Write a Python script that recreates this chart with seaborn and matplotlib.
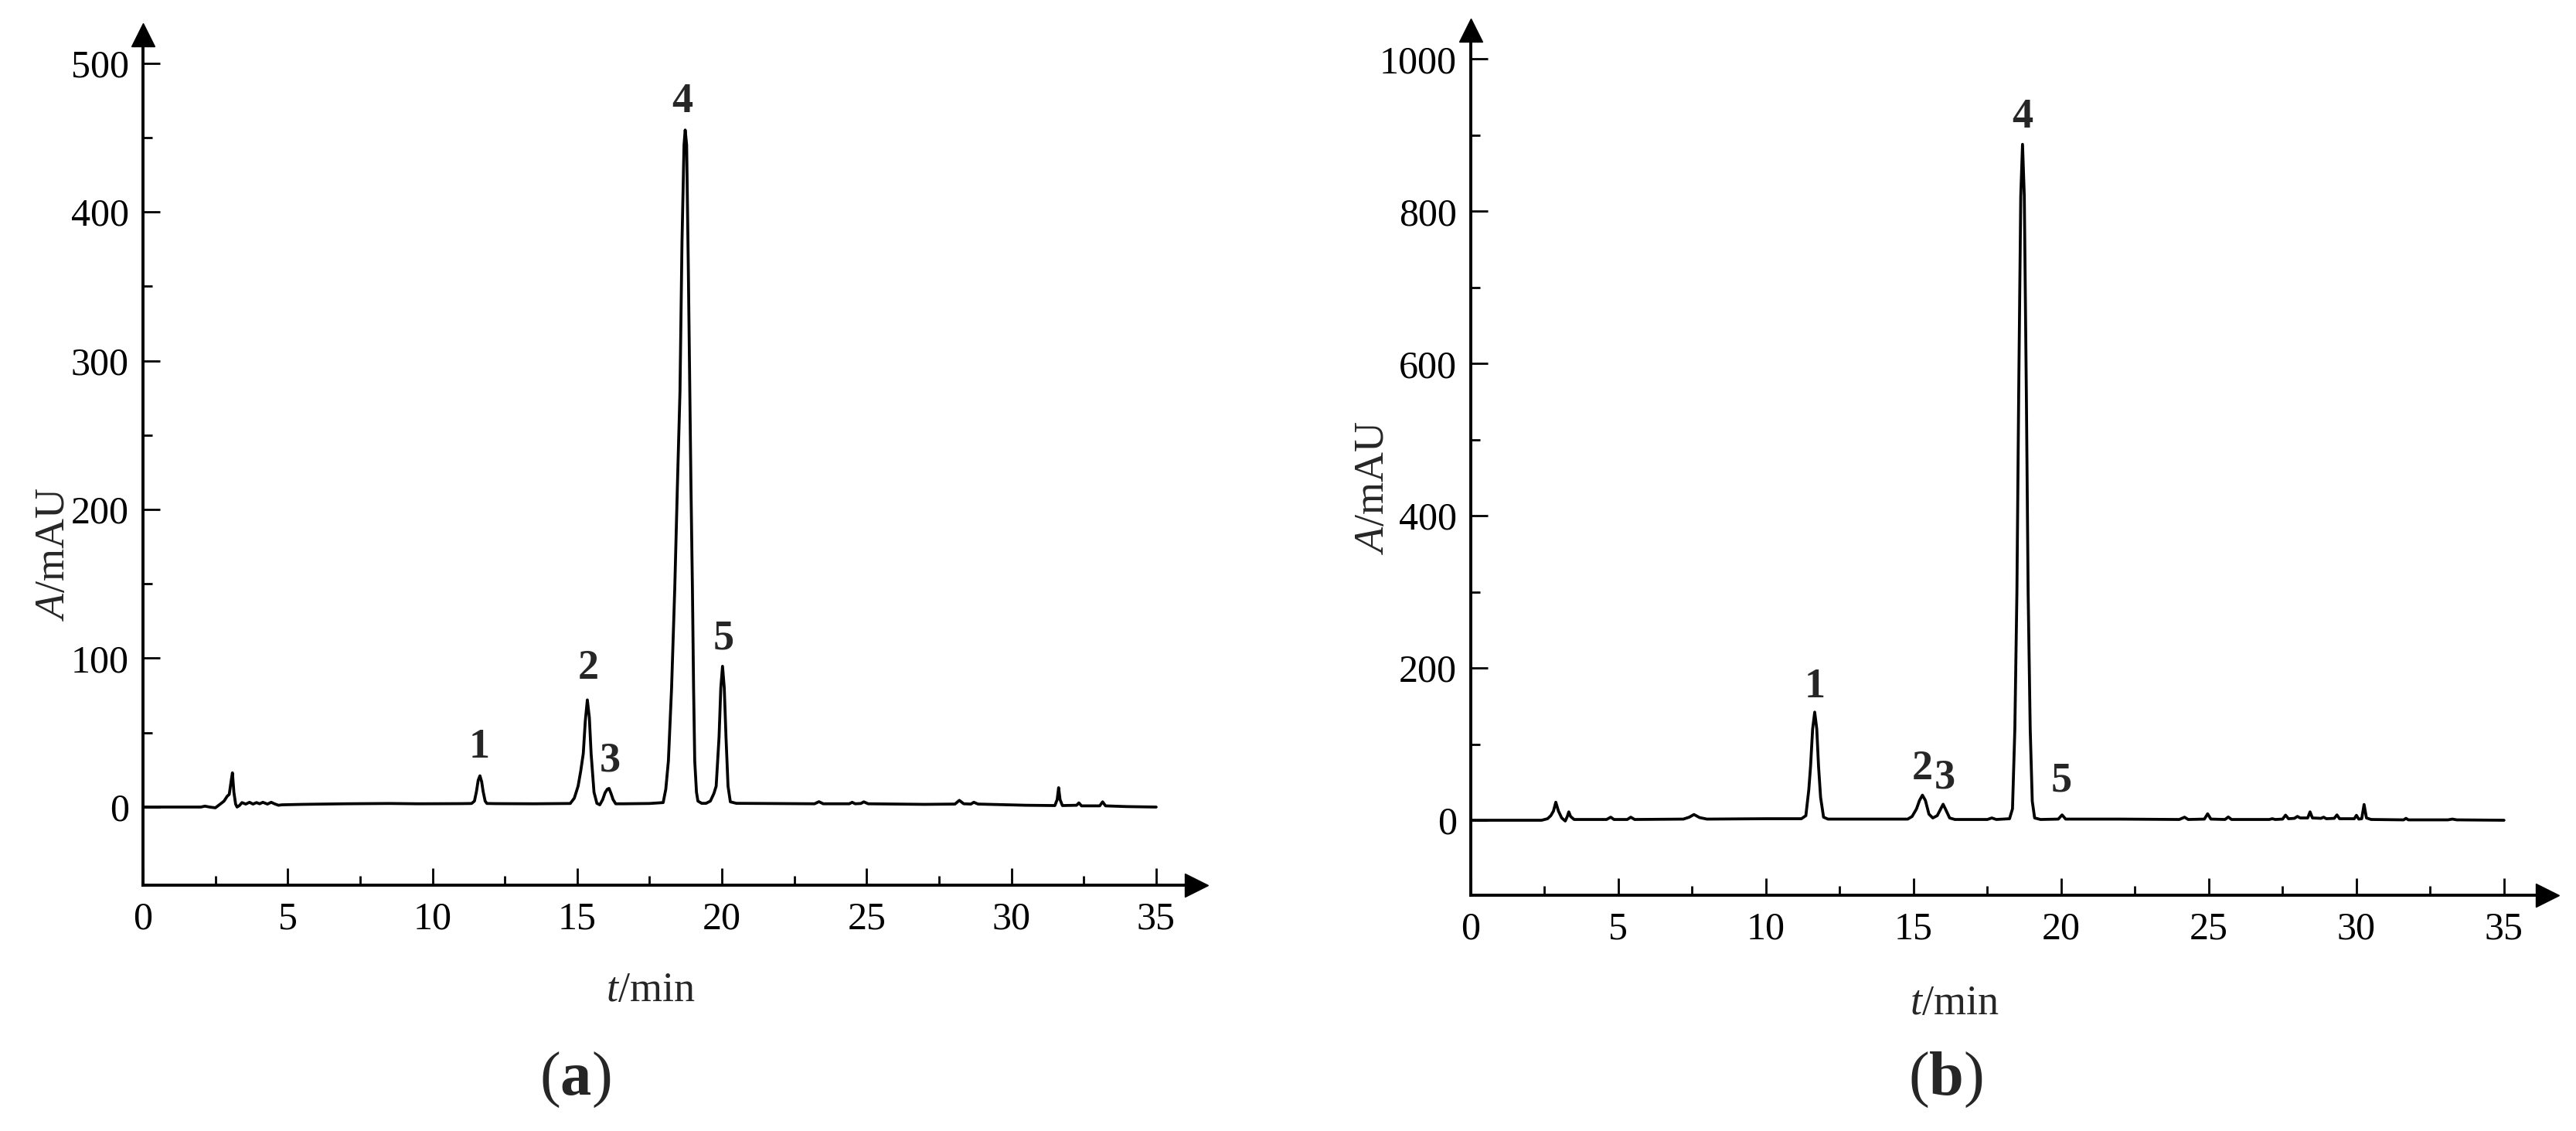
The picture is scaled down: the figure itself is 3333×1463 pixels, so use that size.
import matplotlib
matplotlib.use("Agg")
import matplotlib.pyplot as plt
import seaborn as sns
import pandas as pd
from matplotlib.ticker import FixedLocator

# ---------------- data ----------------
t_a = [0, 2.0, 2.14, 2.3, 2.5, 2.67, 2.8, 2.91, 2.98, 3.05, 3.09, 3.14, 3.2, 3.25, 3.33, 3.42,
       3.55, 3.68, 3.8, 3.92, 4.03, 4.14, 4.3, 4.43, 4.54, 4.68, 4.8, 5.5, 7.0, 8.5, 9.5, 11.0,
       11.35, 11.45, 11.52, 11.58, 11.64, 11.7, 11.75, 11.82, 11.88, 12.2, 13.5, 14.76, 14.9,
       15.03, 15.12, 15.21, 15.28, 15.35, 15.42, 15.48, 15.58, 15.68, 15.78, 15.88, 15.96, 16.04,
       16.1, 16.17, 16.24, 16.33, 16.6, 17.5, 17.97, 18.06, 18.15, 18.26, 18.37, 18.46, 18.55,
       18.62, 18.69, 18.73, 18.78, 18.84, 18.89, 18.93, 18.98, 19.02, 19.06, 19.12, 19.17, 19.3,
       19.45, 19.6, 19.72, 19.8, 19.9, 19.96, 20.02, 20.08, 20.14, 20.21, 20.29, 20.5, 21.5,
       23.2, 23.35, 23.5, 24.4, 24.5, 24.6, 24.8, 24.9, 25.05, 27.0, 28.05, 28.2, 28.35, 28.6,
       28.7, 28.85, 30.5, 31.5, 31.58, 31.63, 31.68, 31.76, 32.25, 32.33, 32.42, 33.05, 33.15,
       33.25, 34.0, 35.0]
A_a = [0, 0, 0.6, 0, -0.5, 2, 4, 7.3, 8.5, 18, 23, 10, 2, 0, 1, 3,
       2, 3.2, 2, 3, 2.2, 3.2, 2, 3.2, 2.2, 1.2, 1.5, 1.8, 2.2, 2.4, 2.2, 2.3,
       2.4, 4, 10.5, 18, 21, 17, 10.5, 4, 2.4, 2.3, 2.2, 2.4, 6,
       14, 24, 36, 58, 72, 60, 36, 10, 2.5, 1.5, 5, 9.5, 12,
       12.5, 9, 5, 2.2, 2.2, 2.4, 3, 12, 31, 80, 147, 215, 279,
       380, 445, 455, 445, 360, 279, 215, 147, 80, 31, 10, 4, 2.5,
       2.5, 4, 9, 14, 47, 80, 94.6, 80, 47, 14, 3.5, 2.5, 2.4,
       2.2, 3.6, 2.2, 2.2, 3.2, 2.2, 2.4, 3.5, 2.2, 1.8, 2.0, 4.5, 2.2, 2.0,
       3.2, 2.0, 1.2, 1.0, 5, 13, 5, 1, 1.2, 2.8, 0.8, 0.8, 3.5,
       0.8, 0.3, 0]

t_b = [0, 2.4, 2.6, 2.71, 2.8, 2.88, 2.97, 3.08, 3.2, 3.27, 3.32, 3.38, 3.5, 4.6, 4.74, 4.85,
       5.3, 5.42, 5.55, 7.2, 7.4, 7.56, 7.75, 8.0, 10.0, 11.2, 11.35, 11.45, 11.51, 11.58, 11.65,
       11.72, 11.78, 11.85, 11.95, 12.1, 14.8, 14.95, 15.1, 15.2, 15.3, 15.4, 15.52, 15.65, 15.8,
       15.92, 16.0, 16.1, 16.22, 16.4, 17.5, 17.65, 17.8, 18.25, 18.35, 18.43, 18.5, 18.56, 18.63,
       18.69, 18.75, 18.82, 18.88, 18.95, 19.02, 19.1, 19.3, 19.9, 20.03, 20.15, 22.0, 24.0, 24.18,
       24.3, 24.85, 24.96, 25.07, 25.55, 25.66, 25.77, 27.05, 27.15, 27.25, 27.5, 27.6, 27.7, 27.9,
       28.0, 28.1, 28.35, 28.43, 28.51, 28.8, 28.89, 28.98, 29.25, 29.34, 29.43, 29.93, 30.0, 30.08,
       30.18, 30.26, 30.34, 30.5, 31.6, 31.68, 31.76, 33.1, 33.25, 33.4, 35.0]
A_b = [0, 0, 2, 6, 12, 23.7, 12, 3, -1, 5, 11, 5, 1, 1, 4, 1,
       1, 4, 1, 1.5, 4, 7.5, 3.5, 1.5, 2, 2, 6, 40, 71, 120, 142,
       120, 71, 30, 4, 1.5, 1.5, 5, 15, 26, 33, 26, 8, 3, 6,
       15, 21, 13, 3, 1, 1, 3, 1, 2, 15, 120, 300, 560, 820,
       888, 820, 560, 300, 120, 25, 3, 1, 1.5, 7, 1.5, 1.5, 1, 4,
       1, 1.5, 8.5, 1.5, 1, 4.3, 1, 1, 2, 1, 1.5, 6.7, 2, 2.5,
       5, 3, 3, 11, 3, 2.5, 4, 2, 2.5, 7, 2, 2, 6.5, 1.5,
       2, 20.7, 3, 1, 0.5, 2.5, 0.5, 0.5, 1.5, 0.5, 0]

peak_names = ["1", "2", "3", "4", "5"]
label_t_a = [11.62, 15.38, 16.14, 18.62, 20.05]
label_y_a = [27, 80, 18, 461, 100]
label_t_b = [11.65, 15.3, 16.07, 18.69, 20.0]
label_y_b = [149, 42, 30, 898, 26]

xticks = [0, 5, 10, 15, 20, 25, 30, 35]
xminor = [2.5, 7.5, 12.5, 17.5, 22.5, 27.5, 32.5]
yticks_a = [0, 100, 200, 300, 400, 500]
yminor_a = [50, 150, 250, 350, 450]
yticks_b = [0, 200, 400, 600, 800, 1000]
yminor_b = [100, 300, 500, 700, 900]

# ---------------- style ----------------
sns.set_theme(style="white")
plt.rcParams["font.family"] = ["Liberation Serif", "DejaVu Serif"]
plt.rcParams["mathtext.fontset"] = "custom"
plt.rcParams["mathtext.rm"] = "Liberation Serif"
plt.rcParams["mathtext.it"] = "Liberation Serif:italic"
plt.rcParams["mathtext.bf"] = "Liberation Serif:bold"

W, H = 3333, 1463
fig = plt.figure(figsize=(W / 100, H / 100), dpi=100)


def px_axes(x0, x1, ytop, ybot):
    return fig.add_axes([x0 / W, 1 - ybot / H, (x1 - x0) / W, (ybot - ytop) / H])


ax_a = px_axes(185, 1548, 45, 1145)
ax_b = px_axes(1903, 3296, 39, 1158)

TICK_FS = 36
spine_lw = 2.8


def style(ax, x, y, xlim, ylim, yt, ym, names, lt, ly):
    df = pd.DataFrame({"t": x, "A": y})
    sns.lineplot(data=df, x="t", y="A", ax=ax, color="black", linewidth=2.7,
                 estimator=None, sort=False)
    ax.set_xlim(*xlim)
    ax.set_ylim(*ylim)
    ax.set_xlabel("")
    ax.set_ylabel("")
    for s in ["top", "right"]:
        ax.spines[s].set_visible(False)
    for s in ["left", "bottom"]:
        ax.spines[s].set_linewidth(spine_lw)
        ax.spines[s].set_color("black")
    ax.xaxis.set_major_locator(FixedLocator(xticks))
    ax.xaxis.set_minor_locator(FixedLocator(xminor))
    ax.yaxis.set_major_locator(FixedLocator(yt))
    ax.yaxis.set_minor_locator(FixedLocator(ym))
    ax.tick_params(axis="both", which="major", direction="in", length=16, width=2.0,
                   labelsize=TICK_FS, color="black", labelcolor="black")
    ax.tick_params(axis="both", which="minor", direction="in", length=8.5, width=2.0,
                   color="black")
    ax.tick_params(axis="x", which="major", pad=15)
    ax.tick_params(axis="y", which="major", pad=13)
    ax.tick_params(bottom=True, left=True, which="both")
    # arrow heads
    ax.plot([0], [1], marker="^", ms=21, color="black", transform=ax.transAxes,
            clip_on=False)
    ax.plot([1], [0], marker=">", ms=21, color="black", transform=ax.transAxes,
            clip_on=False)
    for n, tx, ty in zip(names, lt, ly):
        ax.text(tx, ty, n, ha="center", va="bottom", fontsize=39, fontweight="bold")
    ax.set_facecolor("white")


style(ax_a, t_a, A_a, (0, 36.39), (-52.5, 519), yticks_a, yminor_a,
      peak_names, label_t_a, label_y_a)
style(ax_b, t_b, A_b, (0, 36.47), (-98.5, 1038), yticks_b, yminor_b,
      peak_names, label_t_b, label_y_b)


def ftext(x, y, s, **kw):
    fig.text(x / W, 1 - y / H, s, **kw)


ftext(70, 717, r"$\mathit{A}$/mAU", rotation=90, ha="center", va="center", fontsize=39)
ftext(1777, 631, r"$\mathit{A}$/mAU", rotation=90, ha="center", va="center", fontsize=39)
ftext(842, 1282, r"$\mathit{t}$/min", ha="center", va="center", fontsize=39)
ftext(2529, 1299, r"$\mathit{t}$/min", ha="center", va="center", fontsize=39)
ftext(744, 1397, r"($\mathbf{a}$)", ha="center", va="center", fontsize=58)
ftext(2517, 1397, r"($\mathbf{b}$)", ha="center", va="center", fontsize=58)

fig.savefig("out.png", dpi=100, facecolor="white")
